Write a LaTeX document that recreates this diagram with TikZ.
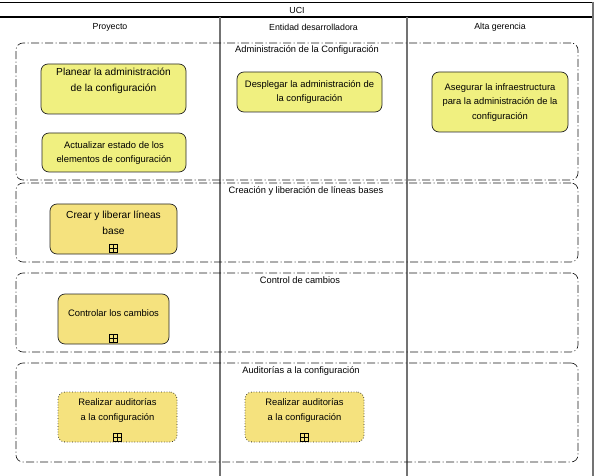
\documentclass[tikz,border=0pt]{standalone}
\usepackage{fontspec}
\setmainfont{Liberation Sans}
\definecolor{taskA}{HTML}{F0F080}
\definecolor{taskB}{HTML}{F5E27E}
\begin{document}
\begin{tikzpicture}[x=1pt,y=-1pt,
  lane/.style={draw=black!55, line width=1.3pt},
  grp/.style={draw=black!90, line width=0.6pt, rounded corners=7pt, dash pattern=on 8pt off 2.5pt on 1pt off 2.5pt, inner sep=0pt},
  task/.style={draw=black!85, line width=0.7pt, rounded corners=7pt, fill=taskA, inner sep=0pt},
  sub/.style={task, fill=taskB},
  dotsub/.style={sub, dotted, line width=0.8pt},
  lbl/.style={font=\fontsize{8.8}{10}\selectfont, inner sep=0pt},
  glbl/.style={font=\fontsize{9.3}{10}\selectfont, inner sep=0pt},
  boxtxt/.style={align=center, font=\fontsize{9.4}{14.5}\selectfont, inner sep=0pt},
  bigtxt/.style={align=center, font=\fontsize{10.2}{16}\selectfont, inner sep=0pt},
  plusbox/.style={draw=black, line width=0.7pt, minimum size=8pt, inner sep=0pt,
    path picture={\draw[line width=0.7pt] (path picture bounding box.north) -- (path picture bounding box.south)
      (path picture bounding box.west) -- (path picture bounding box.east);}}
]
\useasboundingbox (0,0) rectangle (595,476);
% pool frame
\coordinate (tl) at (0,2);
\coordinate (tr) at (593,2);
\coordinate (hl) at (0,17);
\coordinate (hr) at (593,17);
\coordinate (br) at (593,476);
\draw[black, line width=0.6pt] (tl) -- (tr);
\draw[black, line width=1.6pt] (hl) -- (hr);
\draw[lane] (tr) -- (br);
\coordinate (l1t) at (220,17); \coordinate (l1b) at (220,476);
\coordinate (l2t) at (407,17); \coordinate (l2b) at (407,476);
\draw[lane] (l1t) -- (l1b);
\draw[lane] (l2t) -- (l2b);
\node[lbl] (uci) at (297,10) {UCI};
\node[lbl] (h1) at (110,27) {Proyecto};
\node[lbl] (h2) at (313.5,27) {Entidad desarrolladora};
\node[lbl] (h3) at (500,27) {Alta gerencia};

% groups
\node[grp, minimum width=562pt, minimum height=137pt] (g1) at (297,111.5) {};
\node[grp, minimum width=562pt, minimum height=79pt] (g2) at (297,222.5) {};
\node[grp, minimum width=562pt, minimum height=79pt] (g3) at (297,312.5) {};
\node[grp, minimum width=562pt, minimum height=99pt] (g4) at (297,412.5) {};
\node[glbl] (g1l) at (307,50) {Administración de la Configuración};
\node[glbl] (g2l) at (306,191) {Creación y liberación de líneas bases};
\node[glbl] (g3l) at (300,280) {Control de cambios};
\node[glbl] (g4l) at (301,371) {Auditorías a la configuración};

% tasks
\node[task, minimum width=145pt, minimum height=50pt] (t1) at (113.5,89) {};
\node[bigtxt] (t1t) at (113.5,81) {Planear la administración\\de la configuración};
\node[task, minimum width=144pt, minimum height=39pt] (t2) at (114,152.5) {};
\node[boxtxt] (t2t) at (114,153) {Actualizar estado de los\\elementos de configuración};
\node[task, minimum width=145pt, minimum height=40pt] (t3) at (309.5,92) {};
\node[boxtxt] (t3t) at (309.5,92) {Desplegar la administración de\\la configuración};
\node[task, minimum width=136pt, minimum height=60pt] (t4) at (500,102) {};
\node[boxtxt] (t4t) at (500,102.5) {Asegurar la infraestructura\\para la administración de la\\configuración};

% sub-processes
\node[sub, minimum width=127pt, minimum height=50pt] (s1) at (113.5,229) {};
\node[bigtxt] (s1t) at (113.5,223) {Crear y liberar líneas\\base};
\node[plusbox] (s1p) at (113.5,248) {};
\node[sub, minimum width=111pt, minimum height=50pt] (s2) at (113.5,319) {};
\node[boxtxt] (s2t) at (113.5,313) {Controlar los cambios};
\node[plusbox] (s2p) at (113.5,338) {};
\node[dotsub, minimum width=119pt, minimum height=50pt] (s3) at (117.5,417) {};
\node[boxtxt] (s3t) at (117.5,410.5) {Realizar auditorías\\a la configuración};
\node[plusbox] (s3p) at (117.5,437) {};
\node[dotsub, minimum width=119pt, minimum height=50pt] (s4) at (304.5,417) {};
\node[boxtxt] (s4t) at (304.5,410.5) {Realizar auditorías\\a la configuración};
\node[plusbox] (s4p) at (304.5,437) {};
\end{tikzpicture}
\end{document}
